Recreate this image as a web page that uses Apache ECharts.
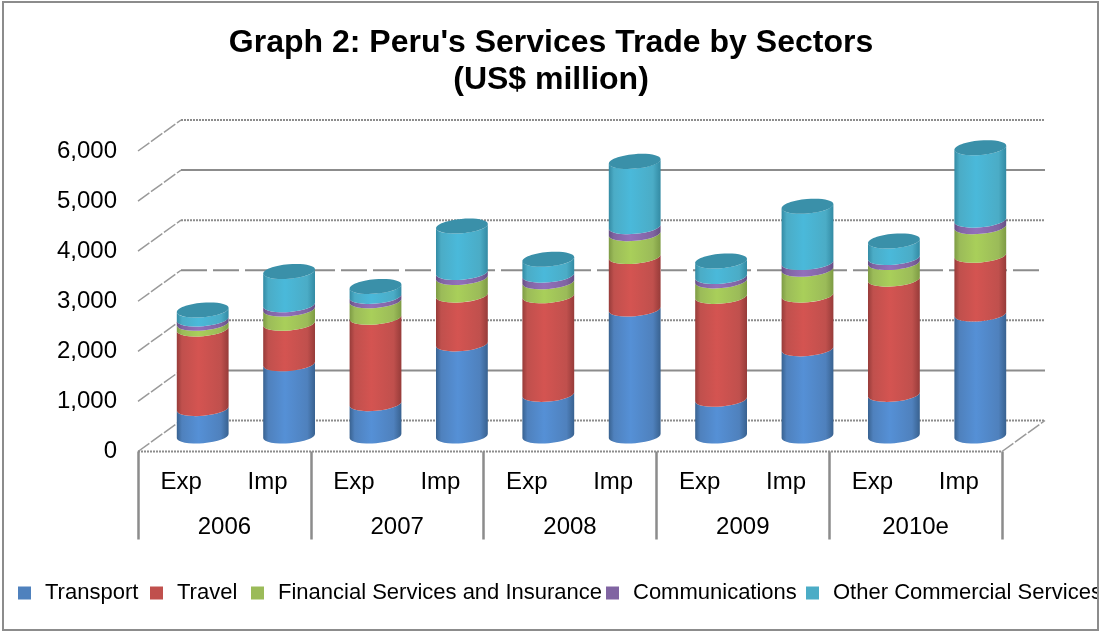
<!DOCTYPE html>
<html>
<head>
<meta charset="utf-8">
<style>html,body{margin:0;padding:0;background:#fff}#chart{width:1099px;height:632px}</style>
<script src="https://cdn.jsdelivr.net/npm/echarts@6/dist/echarts.min.js"></script>
</head>
<body>
<div id="chart"></div>
<script>
// Peru's services trade by sector, US$ million
const flows = ['Exp','Imp','Exp','Imp','Exp','Imp','Exp','Imp','Exp','Imp'];
const years = ['2006','2007','2008','2009','2010e'];
const yTicks = [0,1000,2000,3000,4000,5000,6000];

const transport     = [547,1441,646,1839,831,2535,732,1740,831,2435];
const travel        = [1590,809,1724,974,1968,1048,2055,1073,2300,1173];
const financial     = [113,285,330,352,279,457,310,517,332,571];
const communications= [86,85,87,99,133,139,88,133,100,131];
const otherServices = [179,664,199,927,318,1304,310,1125,330,1446];

const sectors = [
  {name:'Transport', values:transport, color:'#4f81bd', light:'#5590d6', dark:'#38618f', legendLeft:18},
  {name:'Travel', values:travel, color:'#c0504d', light:'#d45451', dark:'#963b39', legendLeft:150},
  {name:'Financial Services and Insurance', values:financial, color:'#9bbb59', light:'#a9cf5a', dark:'#7d9a44', legendLeft:251},
  {name:'Communications', values:communications, color:'#8064a2', light:'#9270bb', dark:'#654d82', legendLeft:606},
  {name:'Other Commercial Services', values:otherServices, color:'#4bacc6', light:'#4ab9da', dark:'#338aa3', legendLeft:806}
];

// Pseudo-3D box: how far the back wall sits behind the front plane
const DEPTH_X = 43, DEPTH_Y = -31;
const RX = 26, RY = 7.2, TILT = -5;
const GREY = '#8c8c8c';
const wallDash = {0:[2,1],1000:null,2000:[2,1],3000:[26,6],4000:[2,1],5000:null,6000:[2,1]};

function wallItem(params, api){
  const v = api.value(0);
  const cs = params.coordSys;
  const y = api.coord([0, v])[1];
  const dash = wallDash[v];
  const lineStyle = {stroke:GREY, lineWidth:2, lineDash:dash || undefined, fill:null};
  const diagStyle = {stroke:'#9a9a9a', lineWidth:1.5, lineDash:[14,2], fill:null};
  const kids = [
    {type:'line', shape:{x1:cs.x, y1:y, x2:cs.x+DEPTH_X, y2:y+DEPTH_Y}, style:diagStyle},
    {type:'line', shape:{x1:cs.x+DEPTH_X, y1:y+DEPTH_Y, x2:cs.x+cs.width+DEPTH_X, y2:y+DEPTH_Y}, style:lineStyle}
  ];
  if (v === 0){
    kids.push({type:'line', shape:{x1:cs.x, y1:y, x2:cs.x+cs.width, y2:y}, style:lineStyle});
    kids.push({type:'line', shape:{x1:cs.x+cs.width, y1:y, x2:cs.x+cs.width+DEPTH_X, y2:y+DEPTH_Y}, style:diagStyle});
  }
  return {type:'group', children:kids};
}

function cylinderItem(sector, isTop){
  const rad = TILT * Math.PI / 180;
  const ex = RX * Math.cos(rad), ey = RX * Math.sin(rad);
  const fill = new echarts.graphic.LinearGradient(0,0,1,0,[
    {offset:0, color:sector.dark},
    {offset:0.1, color:sector.color},
    {offset:0.42, color:sector.light},
    {offset:0.85, color:sector.color},
    {offset:1, color:sector.dark}
  ]);
  return function(params, api){
    const i = api.value(0);
    const p0 = api.coord([i, api.value(1)]);
    const p1 = api.coord([i, api.value(2)]);
    const cx = p0[0] + DEPTH_X/2;
    const y0 = p0[1] + DEPTH_Y/2;
    const y1 = p1[1] + DEPTH_Y/2;
    const d = `M${cx-ex} ${y0-ey} A${RX} ${RY} ${TILT} 0 0 ${cx+ex} ${y0+ey} ` +
              `L${cx+ex} ${y1+ey} A${RX} ${RY} ${TILT} 0 1 ${cx-ex} ${y1-ey} Z`;
    const kids = [{type:'path', shape:{pathData:d}, style:{fill:fill}}];
    if (isTop){
      kids.push({type:'ellipse', shape:{cx:0, cy:0, rx:RX, ry:RY},
        x:cx, y:y1, rotation:-rad, style:{fill:'#3a90a9'}});
    }
    return {type:'group', children:kids};
  };
}

// Stack the sectors; every row is [bar index, base, top]
const running = flows.map(()=>0);
const cylinderSeries = sectors.map((s, k) => {
  const rows = s.values.map((v, i) => {
    const base = running[i];
    running[i] += v;
    return [i, base, running[i]];
  });
  return {
    type:'custom', name:s.name, xAxisIndex:0, yAxisIndex:0, z:5+k,
    clip:false, silent:true, animation:false,
    itemStyle:{color:s.color},
    encode:{x:0, y:[1,2]},
    renderItem:cylinderItem(s, k === sectors.length-1),
    data:rows
  };
});

const chart = echarts.init(document.getElementById('chart'), null, {renderer:'canvas'});
const FONT = 'Liberation Sans';
chart.setOption({
  animation:false,
  backgroundColor:'#fff',
  title:{
    text:"Graph 2: Peru's Services Trade by Sectors\n(US$ million)",
    left:546, top:20, textAlign:'center',
    textStyle:{fontFamily:FONT, fontSize:32, fontWeight:'bold', color:'#000', lineHeight:37}
  },
  // One legend per sector, so each entry keeps its own place along the row
  legend:sectors.map(s => ({
    data:[s.name], left:s.legendLeft, top:582, padding:0, width:400,
    icon:'rect', itemWidth:13, itemHeight:13,
    textStyle:{fontFamily:FONT, fontSize:22, color:'#000', padding:[0,0,0,9]}
  })),
  grid:{left:138, width:864, top:151, height:300.5, containLabel:false},
  xAxis:[
    {type:'category', data:flows, position:'bottom',
     axisLine:{show:false}, axisTick:{show:false},
     axisLabel:{interval:0, margin:19, fontFamily:FONT, fontSize:24, color:'#000'}},
    {type:'category', data:years, position:'bottom',
     axisLine:{show:false},
     axisTick:{show:true, length:88, lineStyle:{color:GREY, width:2.5}},
     axisLabel:{interval:0, margin:64, fontFamily:FONT, fontSize:24, color:'#000'}}
  ],
  yAxis:{
    type:'value', min:0, max:6000, interval:1000,
    axisLine:{show:false}, axisTick:{show:false}, splitLine:{show:false},
    axisLabel:{margin:21, padding:[4,0,0,0], fontFamily:FONT, fontSize:24, color:'#000',
      formatter:v=>v.toLocaleString('en-US')}
  },
  graphic:[{type:'rect', z:100, silent:true,
    shape:{x:3, y:2, width:1095, height:628},
    style:{fill:null, stroke:GREY, lineWidth:2}}],
  series:[
    {type:'custom', name:'wall', xAxisIndex:0, yAxisIndex:0, z:1, clip:false, silent:true,
     encode:{y:0}, renderItem:wallItem, data:yTicks.map(v=>[v])},
    ...cylinderSeries
  ]
});
</script>
</body>
</html>
